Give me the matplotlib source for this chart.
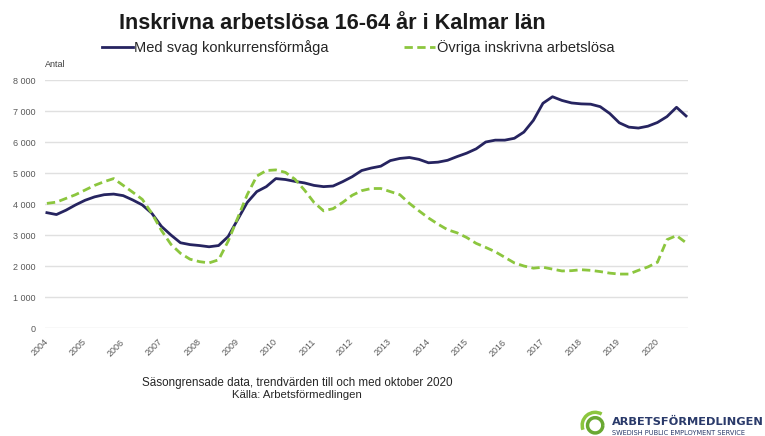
import numpy as np
import matplotlib
matplotlib.use("Agg")
import matplotlib.pyplot as plt
from matplotlib.patches import Arc
from matplotlib.ticker import FuncFormatter

plt.rcParams['font.family'] = ['Liberation Sans', 'DejaVu Sans']

# Kvartalsvärden (tusental), jan 2004 - okt 2020
tid = np.arange(2004.0, 2020.76, 0.25)

svag = [3.72, 3.66, 3.80, 3.97, 4.12, 4.23, 4.30, 4.32,
        4.27, 4.13, 3.97, 3.70, 3.28, 3.00, 2.75, 2.69,
        2.66, 2.62, 2.66, 2.95, 3.50, 4.05, 4.40, 4.56,
        4.82, 4.79, 4.73, 4.68, 4.60, 4.56, 4.58, 4.72,
        4.88, 5.08, 5.16, 5.22, 5.40, 5.47, 5.50, 5.44,
        5.33, 5.35, 5.41, 5.53, 5.64, 5.78, 6.00, 6.06,
        6.06, 6.12, 6.32, 6.70, 7.25, 7.46, 7.34, 7.26,
        7.23, 7.22, 7.14, 6.92, 6.62, 6.48, 6.45, 6.51,
        6.63, 6.82, 7.12, 6.84]

ovriga = [4.02, 4.06, 4.18, 4.30, 4.45, 4.60, 4.72, 4.82,
          4.60, 4.38, 4.15, 3.70, 3.15, 2.70, 2.41, 2.22,
          2.14, 2.10, 2.20, 2.80, 3.55, 4.30, 4.90, 5.08,
          5.10, 5.02, 4.80, 4.45, 4.05, 3.78, 3.85, 4.05,
          4.28, 4.43, 4.50, 4.50, 4.40, 4.30, 4.02, 3.78,
          3.55, 3.35, 3.17, 3.07, 2.92, 2.73, 2.60, 2.46,
          2.28, 2.10, 2.00, 1.93, 1.96, 1.90, 1.84, 1.85,
          1.88, 1.86, 1.82, 1.77, 1.74, 1.74, 1.86, 1.97,
          2.12, 2.85, 2.98, 2.75]

svag = np.array(svag) * 1000
ovriga = np.array(ovriga) * 1000
ar = list(range(2004, 2021))

fig = plt.figure(figsize=(7.65, 4.36), dpi=100)
ax = fig.add_axes([0.0588, 0.2477, 0.8405, 0.5688])

l1, = ax.plot(tid, svag, color='#262460', lw=2.0, label='Med svag konkurrensförmåga')
l2, = ax.plot(tid, ovriga, color='#8cc63e', lw=2.0, ls=(0, (3, 1.6)), label='Övriga inskrivna arbetslösa')

ax.set_ylim(0, 8000)
ax.set_xlim(2003.95, 2020.8)
ax.set_yticks(range(0, 8001, 1000))
ax.yaxis.set_major_formatter(FuncFormatter(lambda v, p: f'{int(v):,}'.replace(',', ' ')))
ax.set_xticks(ar)
ax.set_xticklabels([str(a) for a in ar], rotation=45, ha='right', va='center',
                   rotation_mode='anchor')
ax.tick_params(axis='both', length=0, labelsize=6.5, colors='#595959')
ax.tick_params(axis='x', pad=9)
ax.tick_params(axis='y', pad=7)
ax.grid(axis='y', color='#e0e0e0', lw=1.0)
ax.set_axisbelow(True)
for s in ax.spines.values():
    s.set_visible(False)

fig.text(0.434, 0.947, 'Inskrivna arbetslösa 16-64 år i Kalmar län', ha='center', va='center',
         fontsize=15.6, fontweight='bold', color='#1a1a1a')
fig.legend(handles=[l1, l2], loc='center', bbox_to_anchor=(0.468, 0.89), ncol=2,
           frameon=False, fontsize=10.5, handlelength=2.1, handletextpad=0.1,
           columnspacing=5.2, labelcolor='#262626')
fig.text(0.059, 0.851, 'Antal', fontsize=6.5, color='#404040', va='center')

fig.text(0.388, 0.121, 'Säsongrensade data, trendvärden till och med oktober 2020',
         ha='center', va='center', fontsize=8.4, color='#262626')
fig.text(0.388, 0.094, 'Källa: Arbetsförmedlingen', ha='center', va='center',
         fontsize=8.2, color='#262626')

# logotyp nere till höger
fig.text(0.80, 0.032, 'ARBETSFÖRMEDLINGEN', fontsize=8.2, fontweight='bold',
         color='#2a3a6a', va='center', family=['DejaVu Sans'])
fig.text(0.80, 0.006, 'SWEDISH PUBLIC EMPLOYMENT SERVICE', fontsize=4.8,
         color='#2a3a6a', va='center', family=['DejaVu Sans'])
lax = fig.add_axes([0.758, 0.0, 0.04, 0.07])
lax.set_xlim(-1, 1)
lax.set_ylim(-1, 1)
lax.set_aspect('equal')
lax.axis('off')
lax.add_patch(Arc((0, -0.3), 1.0, 1.0, theta1=0, theta2=360, color='#6aa832', lw=2.5))
lax.add_patch(Arc((0, -0.3), 1.7, 1.7, theta1=60, theta2=200, color='#8cc63e', lw=2.5))

fig.savefig('out.png', dpi=100, facecolor='white')
